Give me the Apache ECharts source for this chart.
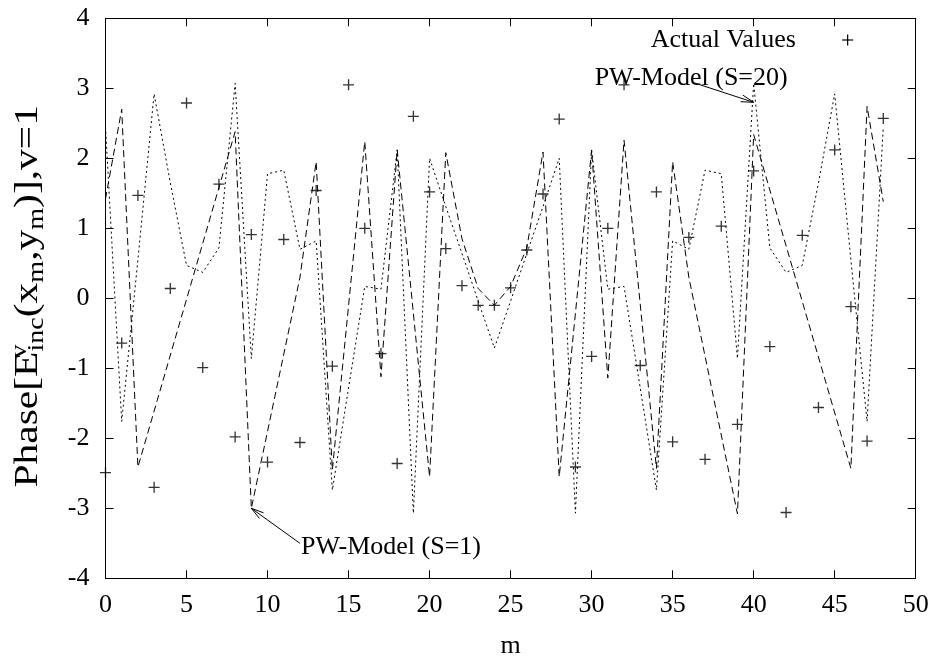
<!DOCTYPE html>
<html><head><meta charset="utf-8">
<script src="https://cdn.jsdelivr.net/npm/echarts/dist/echarts.min.js"></script>
<style>html,body{margin:0;padding:0;background:#fff}#c{width:935px;height:660px}</style>
</head><body><div id="c"></div>
<script>
// ---- data ----
const mIndex = [0,1,2,3,4,5,6,7,8,9,10,11,12,13,14,15,16,17,18,19,20,21,22,23,24,25,26,27,28,29,30,31,32,33,34,35,36,37,38,39,40,41,42,43,44,45,46,47,48];
const actualValues = [-2.49,-0.64,1.47,-2.70,0.14,2.79,-0.99,1.63,-1.98,0.91,-2.34,0.84,-2.06,1.54,-0.97,3.05,1.00,-0.79,-2.36,2.60,1.52,0.71,0.18,-0.10,-0.10,0.15,0.69,1.49,2.56,-2.41,-0.83,1.00,3.05,-0.96,1.52,-2.05,0.87,-2.30,1.03,-1.80,1.82,-0.69,-3.06,0.90,-1.56,2.12,-0.12,-2.04,2.57];
// PW-Model (S=1): vertices of the piecewise-linear curve
const s1X = [0,1,2,8,9,12,13,14,16,17,18,20,21,22,23,24,25,26,27,28,30,31,32,34,35,36,39,40,46,47,48];
const s1Y = [1.42,2.70,-2.41,2.38,-3.00,0.30,1.95,-2.45,2.24,-1.12,2.12,-2.55,2.08,0.85,0.14,-0.10,0.17,0.72,2.09,-2.55,2.12,-1.14,2.26,-2.43,1.95,0.30,-3.08,2.34,-2.43,2.74,1.38];
// PW-Model (S=20): value at each m
const s20Y = [2.45,-1.76,0.55,2.92,1.65,0.47,0.37,0.72,3.07,-0.86,1.78,1.83,0.70,0.82,-2.74,-1.28,0.17,0.13,2.12,-3.07,2.00,1.31,0.64,-0.04,-0.71,-0.04,0.64,1.31,2.00,-3.07,2.12,0.13,0.17,-1.28,-2.74,0.82,0.70,1.83,1.78,-0.86,3.07,0.72,0.37,0.47,1.65,2.92,0.55,-1.76,2.45];
const xRange = [0, 50], xStep = 5;
const yRange = [-4, 4], yStep = 1;
const legendLabel = 'Actual Values';
const label1 = 'PW-Model (S=1)';
const label20 = 'PW-Model (S=20)';
// annotation anchor points (data coordinates)
const arrow1 = {tip:[9,-3.0], tail:[12.0,-3.5]};
const arrow20 = {tip:[40,2.8], tail:[36.3,3.08]};

const FONT = 'Liberation Serif';
const FS = 26;
const chart = echarts.init(document.getElementById('c'), null, {renderer:'canvas'});

const crossPath = 'path://M4.4,0H5.6V4.4H10V5.6H5.6V10H4.4V5.6H0V4.4H4.4Z';
const axisCommon = {
  type:'value', splitLine:{show:false},
  axisLine:{show:true, onZero:false, lineStyle:{color:'#000', width:1}},
  axisTick:{show:true, inside:true, length:8, lineStyle:{color:'#000', width:1}}
};
const labelStyle = {fontFamily:FONT, fontSize:FS, color:'#000'};

chart.setOption({
  animation:false,
  backgroundColor:'#fff',
  grid:{left:105.5, right:19.3, top:18.3, bottom:81.7, containLabel:false, outerBoundsMode:'none'},
  xAxis:[
    Object.assign({}, axisCommon, {min:xRange[0], max:xRange[1], interval:xStep, position:'bottom',
      axisLabel:Object.assign({margin:14}, labelStyle),
      name:'m', nameLocation:'middle', nameGap:55, nameTextStyle:labelStyle}),
    Object.assign({}, axisCommon, {min:xRange[0], max:xRange[1], interval:xStep, position:'top', axisLabel:{show:false}})
  ],
  yAxis:[
    Object.assign({}, axisCommon, {min:yRange[0], max:yRange[1], interval:yStep, position:'left',
      axisLabel:Object.assign({margin:16, padding:[4,0,0,0]}, labelStyle)}),
    Object.assign({}, axisCommon, {min:yRange[0], max:yRange[1], interval:yStep, position:'right', axisLabel:{show:false}})
  ],
  series:[
    {name:label1, type:'line', symbol:'none', data:s1X.map((x,i)=>[x, s1Y[i]]),
     lineStyle:{color:'#000', width:1, type:[7,4]}, z:2},
    {name:label20, type:'line', symbol:'none', data:mIndex.map((x,i)=>[x, s20Y[i]]),
     lineStyle:{color:'#000', width:1, type:[2,3]}, z:2},
    {name:legendLabel, type:'scatter', symbol:crossPath, symbolSize:11,
     itemStyle:{color:'#000'}, data:mIndex.map((x,i)=>[x, actualValues[i]]), z:3}
  ]
});

function px(p){ return chart.convertToPixel({xAxisIndex:0, yAxisIndex:0}, p); }
function arrowEls(a){
  const t = px(a.tip), s = px(a.tail);
  const ang = Math.atan2(s[1]-t[1], s[0]-t[0]);
  const L = 13, h = 0.27;
  const p1 = [t[0]+L*Math.cos(ang+h), t[1]+L*Math.sin(ang+h)];
  const p2 = [t[0]+L*Math.cos(ang-h), t[1]+L*Math.sin(ang-h)];
  const st = {stroke:'#000', lineWidth:1};
  return [
    {type:'line', shape:{x1:s[0],y1:s[1],x2:t[0],y2:t[1]}, style:st, silent:true},
    {type:'polyline', shape:{points:[p1,t,p2]}, style:Object.assign({fill:null}, st), silent:true}
  ];
}
const t1 = px(arrow1.tail);
const legPlus = px([45.8, 3.69]);
const legText = px([42.6, 3.69]);
const lbl20 = px([42.1, 3.14]);
const grid = chart.getModel().getComponent('grid').coordinateSystem.getRect();

const graphics = [].concat(arrowEls(arrow1), arrowEls(arrow20), [
  {type:'text', x:t1[0]+1, y:t1[1]+4, style:{text:label1, font:FS+'px '+FONT, fill:'#000', textAlign:'left', textVerticalAlign:'middle'}},
  {type:'text', x:lbl20[0], y:lbl20[1], style:{text:label20, font:FS+'px '+FONT, fill:'#000', textAlign:'right', textVerticalAlign:'middle'}},
  {type:'text', x:legText[0], y:legText[1], style:{text:legendLabel, font:FS+'px '+FONT, fill:'#000', textAlign:'right', textVerticalAlign:'middle'}},
  {type:'line', shape:{x1:legPlus[0]-5.5, y1:legPlus[1], x2:legPlus[0]+5.5, y2:legPlus[1]}, style:{stroke:'#000', lineWidth:1.2}},
  {type:'line', shape:{x1:legPlus[0], y1:legPlus[1]-5.5, x2:legPlus[0], y2:legPlus[1]+5.5}, style:{stroke:'#000', lineWidth:1.2}},
  {type:'text', x:28, y:grid.y + grid.height/2 - 2, rotation:Math.PI/2, scaleX:1.22, scaleY:1,
   style:{text:'{a|Phase[E}{sup|v}{sub|inc}{a|(x}{sub|m}{a|,y}{sub|m}{a|)],v=1}',
     textAlign:'center', textVerticalAlign:'middle',
     rich:{
       a:{fontFamily:FONT, fontSize:34, lineHeight:40, fill:'#000', color:'#000'},
       sup:{fontFamily:FONT, fontSize:23, lineHeight:22, verticalAlign:'top', width:0.1, fill:'#000', color:'#000'},
       sub:{fontFamily:FONT, fontSize:23, lineHeight:22, verticalAlign:'bottom', fill:'#000', color:'#000'}
     }}}
]);
chart.setOption({graphic:graphics});
</script>
</body></html>
